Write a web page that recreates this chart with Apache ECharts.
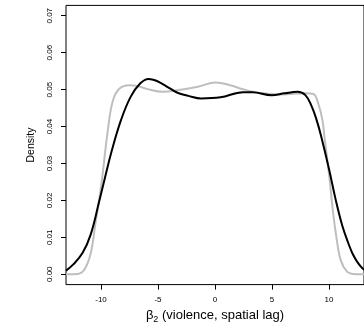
<!DOCTYPE html>
<html>
<head>
<meta charset="utf-8">
<script src="https://cdn.jsdelivr.net/npm/echarts@6/dist/echarts.min.js"></script>
<style>
  html, body { margin: 0; padding: 0; background: #fff; }
  #chart { width: 364px; height: 334px; }
</style>
</head>
<body>
<div id="chart"></div>
<script>
// black density curve
const xBlack = [-13.07, -12.45, -11.61, -10.90, -10.20, -9.60, -9.08, -8.24, -7.39, -6.55, -5.84, -5.14, -4.0, -3.18, -2.34, -1.21, 0.48, 2.45, 3.29, 4.97, 6.10, 7.23, 7.93, 8.49, 8.91, 9.30, 10.0, 10.60, 11.16, 11.72, 12.08, 12.6, 13.07];
const densBlack = [0.0010, 0.0026, 0.0058, 0.0108, 0.0192, 0.0268, 0.0332, 0.0418, 0.0481, 0.0517, 0.0529, 0.0524, 0.0504, 0.0490, 0.0483, 0.0476, 0.0479, 0.0493, 0.0493, 0.0485, 0.0490, 0.0494, 0.0485, 0.0454, 0.0418, 0.0375, 0.0285, 0.0200, 0.0132, 0.0082, 0.0055, 0.0028, 0.0012];

// gray density curve
const xGray = [-13.07, -12.03, -11.47, -10.90, -10.48, -10.20, -9.92, -9.36, -8.94, -8.37, -7.53, -6.83, -5.99, -4.58, -3.18, -1.49, 0.06, 1.32, 2.45, 4.13, 5.82, 7.93, 8.63, 9.05, 9.42, 9.61, 10.03, 10.31, 10.60, 11.02, 11.58, 12.1, 13.07];
const densGray = [0, 0.0001, 0.0012, 0.0057, 0.0140, 0.0193, 0.0255, 0.0400, 0.0472, 0.0503, 0.0512, 0.0510, 0.0502, 0.0494, 0.0499, 0.0508, 0.0519, 0.0512, 0.0501, 0.0490, 0.0487, 0.0490, 0.0488, 0.0463, 0.0418, 0.0370, 0.0264, 0.0180, 0.0111, 0.0039, 0.0007, 0.0001, 0];

const xTicks = [-10, -5, 0, 5, 10];
const yTicks = [0, 0.01, 0.02, 0.03, 0.04, 0.05, 0.06, 0.07];

const font = "'Liberation Sans', Arial, sans-serif";
const chart = echarts.init(document.getElementById('chart'));

const option = {
  animation: false,
  grid: {
    left: 66, top: 5.4, right: -12, bottom: 49.4,
    show: true, borderColor: '#000', borderWidth: 1
  },
  xAxis: {
    type: 'value',
    min: -13.07,
    max: 13.07,
    splitLine: { show: false },
    axisLine: { show: false, onZero: false },
    axisTick: { show: true, length: 5, lineStyle: { color: '#000' }, customValues: xTicks },
    axisLabel: {
      customValues: xTicks, margin: 11,
      fontSize: 8, color: '#000', fontFamily: font
    },
    name: '{b|β}{s|2}{b| (violence, spatial lag)}',
    nameLocation: 'middle',
    nameGap: 18,
    nameTextStyle: {
      rich: {
        b: { fontSize: 13, fontFamily: font, color: '#000', lineHeight: 14 },
        s: { fontSize: 9, fontFamily: font, color: '#000', lineHeight: 18, verticalAlign: 'bottom' }
      }
    }
  },
  yAxis: {
    type: 'value',
    min: -0.0028,
    max: 0.0728,
    splitLine: { show: false },
    axisLine: { show: false, onZero: false },
    axisTick: { show: true, length: 5, lineStyle: { color: '#000' }, customValues: yTicks },
    axisLabel: {
      customValues: yTicks, rotate: 90, margin: 12,
      fontSize: 8, color: '#000', fontFamily: font,
      formatter: v => v.toFixed(2)
    },
    name: 'Density',
    nameLocation: 'middle',
    nameRotate: 90,
    nameGap: 29,
    nameTextStyle: { fontSize: 10.5, fontFamily: font, color: '#000' }
  },
  series: [
    {
      name: 'gray',
      type: 'line',
      data: xGray.map((x, i) => [x, densGray[i]]),
      smooth: 0.4,
      showSymbol: false,
      lineStyle: { color: '#bebebe', width: 2 }
    },
    {
      name: 'black',
      type: 'line',
      data: xBlack.map((x, i) => [x, densBlack[i]]),
      smooth: 0.4,
      showSymbol: false,
      lineStyle: { color: '#000', width: 2 }
    }
  ]
};

chart.setOption(option);
</script>
</body>
</html>
